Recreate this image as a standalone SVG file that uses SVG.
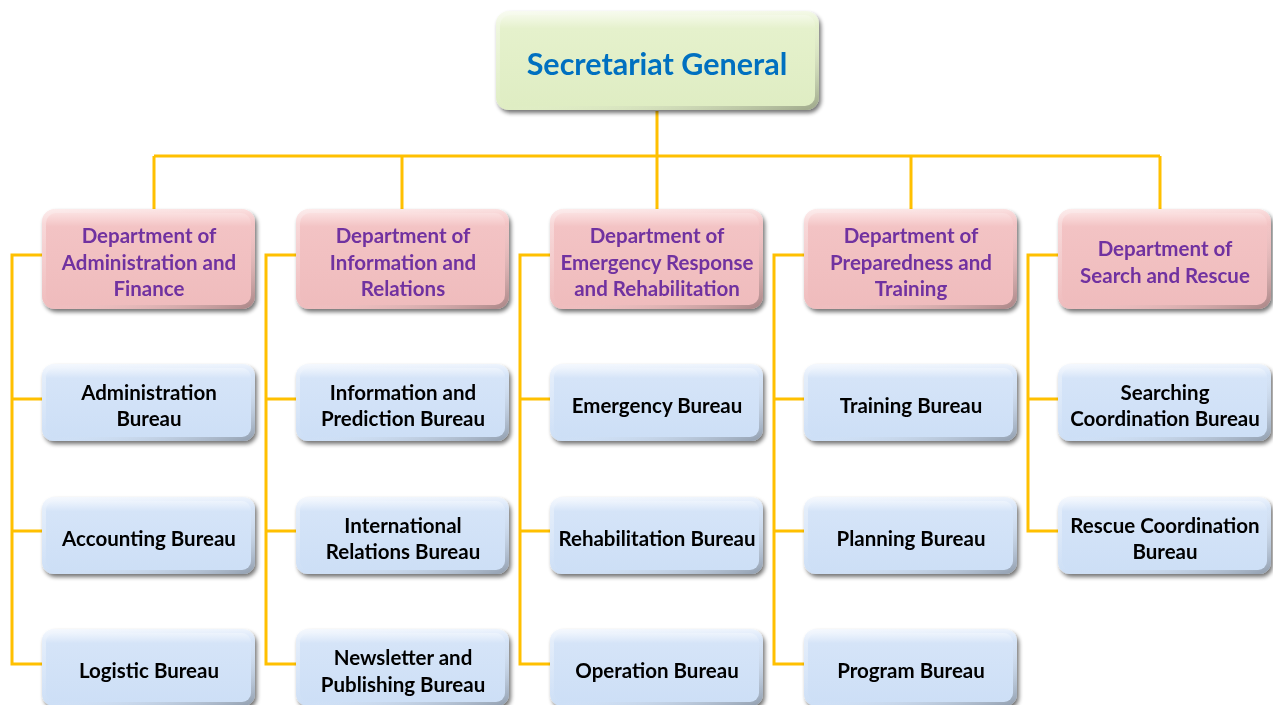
<svg xmlns="http://www.w3.org/2000/svg" width="1273" height="705" viewBox="0 0 1273 705">
  <defs>
    <linearGradient id="gTop" x1="0" y1="0" x2="0" y2="1">
      <stop offset="0" stop-color="#f4f9e8"/>
      <stop offset="0.15" stop-color="#e5f1cc"/>
      <stop offset="1" stop-color="#dfedc3"/>
    </linearGradient>
    <linearGradient id="gDept" x1="0" y1="0" x2="0" y2="1">
      <stop offset="0" stop-color="#fbe0e0"/>
      <stop offset="0.15" stop-color="#f3c3c4"/>
      <stop offset="1" stop-color="#efbcbd"/>
    </linearGradient>
    <linearGradient id="gBur" x1="0" y1="0" x2="0" y2="1">
      <stop offset="0" stop-color="#eef4fd"/>
      <stop offset="0.15" stop-color="#d5e4f8"/>
      <stop offset="1" stop-color="#cddff6"/>
    </linearGradient>
    <linearGradient id="gEdge" x1="0" y1="0" x2="1" y2="1">
      <stop offset="0" stop-color="#ffffff" stop-opacity="0.7"/>
      <stop offset="0.5" stop-color="#ffffff" stop-opacity="0"/>
      <stop offset="1" stop-color="#000000" stop-opacity="0.5"/>
    </linearGradient>
    <filter id="shadow" x="-10%" y="-10%" width="125%" height="135%">
      <feGaussianBlur in="SourceAlpha" stdDeviation="2"/>
      <feOffset dx="2" dy="3" result="b"/>
      <feComponentTransfer><feFuncA type="linear" slope="0.55"/></feComponentTransfer>
      <feMerge><feMergeNode/><feMergeNode in="SourceGraphic"/></feMerge>
    </filter>
  </defs>
  <style>
    .conn { fill: none; stroke: #ffc000; stroke-width: 3; }
    .edge { fill: url(#gEdge); }
    .top { fill: url(#gTop); }
    .dept { fill: url(#gDept); }
    .bur { fill: url(#gBur); }
    text { font-family: Lato, "Liberation Sans", sans-serif; font-weight: bold; text-anchor: middle; dominant-baseline: central; }
    .tt { font-size: 30.5px; fill: #0070c0; }
    .dt { font-size: 20.5px; fill: #7030a0; }
    .bt { font-size: 20.5px; fill: #000000; }
  </style>

  <g id="connectors">
    <path class="conn" d="M657,111 V156 M154,156 H1160 M154,156 V209 M402,156 V209 M657,156 V209 M911,156 V209 M1160,156 V209"/>
    <path class="conn" d="M42,255 H12 V664 H42 M12,399 H42 M12,531 H42"/>
    <path class="conn" d="M296,255 H266 V664 H296 M266,399 H296 M266,531 H296"/>
    <path class="conn" d="M550,255 H520 V664 H550 M520,399 H550 M520,531 H550"/>
    <path class="conn" d="M804,255 H774 V664 H804 M774,399 H804 M774,531 H804"/>
    <path class="conn" d="M1058,255 H1028 V531 H1058 M1028,399 H1058"/>
  </g>

  <g id="secretariat" filter="url(#shadow)">
    <rect class="top" x="496" y="11" width="323" height="99" rx="13"/>
    <rect class="edge" x="496" y="11" width="323" height="99" rx="13" opacity="0.6"/>
    <rect class="top" x="500" y="15" width="315" height="91" rx="10"/>
    <text class="tt" x="657" y="63">Secretariat General</text>
  </g>

  <!-- departments -->
  <g id="dept-admin" filter="url(#shadow)">
    <rect class="dept" x="42" y="209" width="213" height="100" rx="13"/>
    <rect class="edge" x="42" y="209" width="213" height="100" rx="13" opacity="0.6"/>
    <rect class="dept" x="46" y="213" width="205" height="92" rx="10"/>
    <text class="dt" x="149" y="235">Department of</text>
    <text class="dt" x="149" y="262">Administration and</text>
    <text class="dt" x="149" y="288">Finance</text>
  </g>
  <g id="dept-info" filter="url(#shadow)">
    <rect class="dept" x="296" y="209" width="213" height="100" rx="13"/>
    <rect class="edge" x="296" y="209" width="213" height="100" rx="13" opacity="0.6"/>
    <rect class="dept" x="300" y="213" width="205" height="92" rx="10"/>
    <text class="dt" x="403" y="235">Department of</text>
    <text class="dt" x="403" y="262">Information and</text>
    <text class="dt" x="403" y="288">Relations</text>
  </g>
  <g id="dept-emergency" filter="url(#shadow)">
    <rect class="dept" x="550" y="209" width="213" height="100" rx="13"/>
    <rect class="edge" x="550" y="209" width="213" height="100" rx="13" opacity="0.6"/>
    <rect class="dept" x="554" y="213" width="205" height="92" rx="10"/>
    <text class="dt" x="657" y="235">Department of</text>
    <text class="dt" x="657" y="262">Emergency Response</text>
    <text class="dt" x="657" y="288">and Rehabilitation</text>
  </g>
  <g id="dept-preparedness" filter="url(#shadow)">
    <rect class="dept" x="804" y="209" width="213" height="100" rx="13"/>
    <rect class="edge" x="804" y="209" width="213" height="100" rx="13" opacity="0.6"/>
    <rect class="dept" x="808" y="213" width="205" height="92" rx="10"/>
    <text class="dt" x="911" y="235">Department of</text>
    <text class="dt" x="911" y="262">Preparedness and</text>
    <text class="dt" x="911" y="288">Training</text>
  </g>
  <g id="dept-sar" filter="url(#shadow)">
    <rect class="dept" x="1058" y="209" width="213" height="100" rx="13"/>
    <rect class="edge" x="1058" y="209" width="213" height="100" rx="13" opacity="0.6"/>
    <rect class="dept" x="1062" y="213" width="205" height="92" rx="10"/>
    <text class="dt" x="1165" y="248">Department of</text>
    <text class="dt" x="1165" y="275">Search and Rescue</text>
  </g>

  <!-- bureaus: row 1 -->
  <g id="bur-administration" filter="url(#shadow)">
    <rect class="bur" x="42" y="364" width="213" height="77" rx="12"/>
    <rect class="edge" x="42" y="364" width="213" height="77" rx="12" opacity="0.6"/>
    <rect class="bur" x="46" y="368" width="205" height="69" rx="9"/>
    <text class="bt" x="149" y="392">Administration</text>
    <text class="bt" x="149" y="418">Bureau</text>
  </g>
  <g id="bur-information" filter="url(#shadow)">
    <rect class="bur" x="296" y="364" width="213" height="77" rx="12"/>
    <rect class="edge" x="296" y="364" width="213" height="77" rx="12" opacity="0.6"/>
    <rect class="bur" x="300" y="368" width="205" height="69" rx="9"/>
    <text class="bt" x="403" y="392">Information and</text>
    <text class="bt" x="403" y="418">Prediction Bureau</text>
  </g>
  <g id="bur-emergency" filter="url(#shadow)">
    <rect class="bur" x="550" y="364" width="213" height="77" rx="12"/>
    <rect class="edge" x="550" y="364" width="213" height="77" rx="12" opacity="0.6"/>
    <rect class="bur" x="554" y="368" width="205" height="69" rx="9"/>
    <text class="bt" x="657" y="405">Emergency Bureau</text>
  </g>
  <g id="bur-training" filter="url(#shadow)">
    <rect class="bur" x="804" y="364" width="213" height="77" rx="12"/>
    <rect class="edge" x="804" y="364" width="213" height="77" rx="12" opacity="0.6"/>
    <rect class="bur" x="808" y="368" width="205" height="69" rx="9"/>
    <text class="bt" x="911" y="405">Training Bureau</text>
  </g>
  <g id="bur-searching" filter="url(#shadow)">
    <rect class="bur" x="1058" y="364" width="213" height="77" rx="12"/>
    <rect class="edge" x="1058" y="364" width="213" height="77" rx="12" opacity="0.6"/>
    <rect class="bur" x="1062" y="368" width="205" height="69" rx="9"/>
    <text class="bt" x="1165" y="392">Searching</text>
    <text class="bt" x="1165" y="418">Coordination Bureau</text>
  </g>

  <!-- bureaus: row 2 -->
  <g id="bur-accounting" filter="url(#shadow)">
    <rect class="bur" x="42" y="497" width="213" height="77" rx="12"/>
    <rect class="edge" x="42" y="497" width="213" height="77" rx="12" opacity="0.6"/>
    <rect class="bur" x="46" y="501" width="205" height="69" rx="9"/>
    <text class="bt" x="149" y="538">Accounting Bureau</text>
  </g>
  <g id="bur-international" filter="url(#shadow)">
    <rect class="bur" x="296" y="497" width="213" height="77" rx="12"/>
    <rect class="edge" x="296" y="497" width="213" height="77" rx="12" opacity="0.6"/>
    <rect class="bur" x="300" y="501" width="205" height="69" rx="9"/>
    <text class="bt" x="403" y="525">International</text>
    <text class="bt" x="403" y="551">Relations Bureau</text>
  </g>
  <g id="bur-rehabilitation" filter="url(#shadow)">
    <rect class="bur" x="550" y="497" width="213" height="77" rx="12"/>
    <rect class="edge" x="550" y="497" width="213" height="77" rx="12" opacity="0.6"/>
    <rect class="bur" x="554" y="501" width="205" height="69" rx="9"/>
    <text class="bt" x="657" y="538">Rehabilitation Bureau</text>
  </g>
  <g id="bur-planning" filter="url(#shadow)">
    <rect class="bur" x="804" y="497" width="213" height="77" rx="12"/>
    <rect class="edge" x="804" y="497" width="213" height="77" rx="12" opacity="0.6"/>
    <rect class="bur" x="808" y="501" width="205" height="69" rx="9"/>
    <text class="bt" x="911" y="538">Planning Bureau</text>
  </g>
  <g id="bur-rescue" filter="url(#shadow)">
    <rect class="bur" x="1058" y="497" width="213" height="77" rx="12"/>
    <rect class="edge" x="1058" y="497" width="213" height="77" rx="12" opacity="0.6"/>
    <rect class="bur" x="1062" y="501" width="205" height="69" rx="9"/>
    <text class="bt" x="1165" y="525">Rescue Coordination</text>
    <text class="bt" x="1165" y="551">Bureau</text>
  </g>

  <!-- bureaus: row 3 -->
  <g id="bur-logistic" filter="url(#shadow)">
    <rect class="bur" x="42" y="629" width="213" height="77" rx="12"/>
    <rect class="edge" x="42" y="629" width="213" height="77" rx="12" opacity="0.6"/>
    <rect class="bur" x="46" y="633" width="205" height="69" rx="9"/>
    <text class="bt" x="149" y="670">Logistic Bureau</text>
  </g>
  <g id="bur-newsletter" filter="url(#shadow)">
    <rect class="bur" x="296" y="629" width="213" height="77" rx="12"/>
    <rect class="edge" x="296" y="629" width="213" height="77" rx="12" opacity="0.6"/>
    <rect class="bur" x="300" y="633" width="205" height="69" rx="9"/>
    <text class="bt" x="403" y="657">Newsletter and</text>
    <text class="bt" x="403" y="684">Publishing Bureau</text>
  </g>
  <g id="bur-operation" filter="url(#shadow)">
    <rect class="bur" x="550" y="629" width="213" height="77" rx="12"/>
    <rect class="edge" x="550" y="629" width="213" height="77" rx="12" opacity="0.6"/>
    <rect class="bur" x="554" y="633" width="205" height="69" rx="9"/>
    <text class="bt" x="657" y="670">Operation Bureau</text>
  </g>
  <g id="bur-program" filter="url(#shadow)">
    <rect class="bur" x="804" y="629" width="213" height="77" rx="12"/>
    <rect class="edge" x="804" y="629" width="213" height="77" rx="12" opacity="0.6"/>
    <rect class="bur" x="808" y="633" width="205" height="69" rx="9"/>
    <text class="bt" x="911" y="670">Program Bureau</text>
  </g>
</svg>
